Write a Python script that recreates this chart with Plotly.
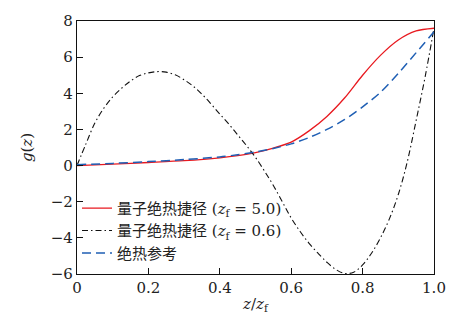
import plotly.graph_objects as go

# z / z_f sample positions
z_red = [0, 0.1, 0.2, 0.3, 0.4, 0.45, 0.5, 0.55, 0.6, 0.65, 0.7, 0.75, 0.8, 0.85, 0.9, 0.95, 1.0]
g_red = [0, 0.08, 0.17, 0.27, 0.43, 0.55, 0.72, 0.97, 1.3, 1.92, 2.72, 3.75, 5.0, 6.1, 6.95, 7.45, 7.6]

z_black = [0, 0.025, 0.05, 0.075, 0.1, 0.125, 0.15, 0.175, 0.2, 0.225, 0.25, 0.275, 0.3, 0.325,
           0.35, 0.375, 0.4, 0.425, 0.45, 0.475, 0.5, 0.525, 0.55, 0.575, 0.6, 0.625, 0.65, 0.675,
           0.7, 0.725, 0.75, 0.775, 0.8, 0.825, 0.85, 0.875, 0.9, 0.925, 0.95, 0.975, 1.0]
g_black = [0, 1.2, 2.35, 3.17, 3.8, 4.28, 4.68, 4.98, 5.13, 5.2, 5.17, 5.02, 4.75, 4.4,
           3.95, 3.42, 2.85, 2.3, 1.7, 1.1, 0.45, -0.3, -1.1, -2.0, -2.9, -3.65, -4.3, -4.85,
           -5.35, -5.75, -5.97, -5.9, -5.5, -4.85, -4.0, -2.95, -1.6, 0.2, 2.5, 4.9, 7.6]

z_blue = [0, 0.1, 0.2, 0.3, 0.4, 0.45, 0.5, 0.55, 0.6, 0.65, 0.7, 0.75, 0.8, 0.85, 0.9, 0.95, 1.0]
g_blue = [0.05, 0.12, 0.22, 0.33, 0.48, 0.6, 0.75, 0.95, 1.2, 1.55, 2.0, 2.55, 3.25, 4.05, 5.1, 6.25, 7.4]

names = ["量子绝热捷径 (<i>z</i><sub>f</sub> = 5.0)",
         "量子绝热捷径 (<i>z</i><sub>f</sub> = 0.6)",
         "绝热参考"]

x_ticks = [0, 0.2, 0.4, 0.6, 0.8, 1.0]
x_ticktext = ["0", "0.2", "0.4", "0.6", "0.8", "1.0"]
y_ticks = [-6, -4, -2, 0, 2, 4, 6, 8]
y_ticktext = ["−6", "−4", "−2", "0", "2", "4", "6", "8"]

FONT = "DejaVu Serif"
LEGEND_FONT = "DejaVu Serif, Noto Sans CJK SC"

fig = go.Figure()
fig.add_trace(go.Scatter(x=z_red, y=g_red, mode="lines", name=names[0],
                         line=dict(color="#e8191f", width=1.3, shape="spline", smoothing=0.8)))
fig.add_trace(go.Scatter(x=z_black, y=g_black, mode="lines", name=names[1],
                         line=dict(color="#111111", width=1.1, shape="spline",
                                   dash="6px,3px,1.5px,3px")))
fig.add_trace(go.Scatter(x=z_blue, y=g_blue, mode="lines", name=names[2],
                         line=dict(color="#1f5fb4", width=1.5, shape="spline", smoothing=0.8,
                                   dash="9px,5px")))

axis_common = dict(showline=True, linecolor="#111111", linewidth=1.2, mirror=True,
                   ticks="inside", ticklen=6, tickwidth=1.2, tickcolor="#111111",
                   showgrid=False, zeroline=False,
                   tickfont=dict(family=FONT, size=15, color="#222222"))

fig.update_layout(
    width=458, height=322,
    margin=dict(l=77, r=24, t=14, b=48),
    paper_bgcolor="white", plot_bgcolor="white",
    font=dict(family=FONT, size=15, color="#222222"),
    showlegend=True,
    legend=dict(x=0.0, y=0.325, xanchor="left", yanchor="top",
                bgcolor="rgba(0,0,0,0)", borderwidth=0,
                font=dict(family=LEGEND_FONT, size=15, color="#222222"),
                tracegroupgap=0, itemwidth=30),
    xaxis=dict(range=[0, 1.0], tickvals=x_ticks, ticktext=x_ticktext,
               title=dict(text="<i>z</i>/<i>z</i><sub>f</sub>", standoff=2,
                          font=dict(family=FONT, size=15)),
               **axis_common),
    yaxis=dict(range=[-6, 8], tickvals=y_ticks, ticktext=y_ticktext,
               title=dict(text="<i>g</i>(<i>z</i>)", standoff=14,
                          font=dict(family=FONT, size=15)),
               **axis_common),
)

fig.write_html("out.html")
